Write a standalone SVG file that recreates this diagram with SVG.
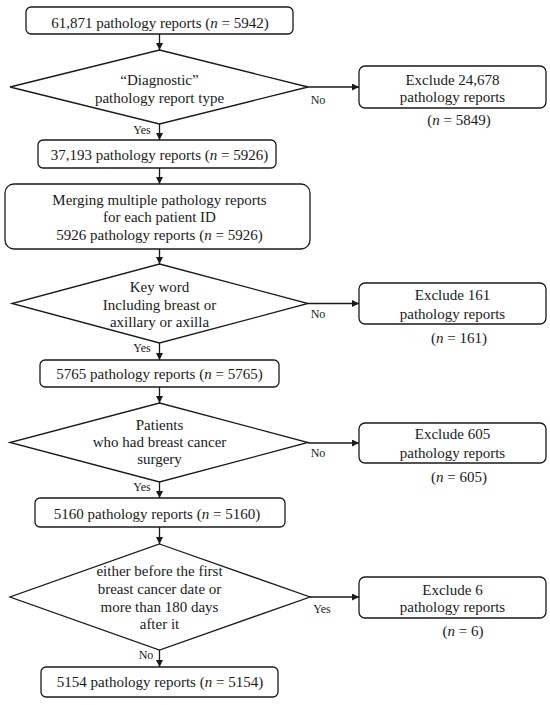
<svg xmlns="http://www.w3.org/2000/svg" width="550" height="705" viewBox="0 0 550 705">
<defs>
<marker id="ah" viewBox="0 0 10 10" refX="10" refY="5" markerWidth="7" markerHeight="7" markerUnits="userSpaceOnUse" orient="auto">
<path d="M0,0 L10,5 L0,10 z" fill="#1a1a1a"/>
</marker>
<style>
.b{fill:#fff;stroke:#1a1a1a;stroke-width:1.3}
.t{font-size:15px;fill:#1a1a1a;text-anchor:middle}
.s{font-size:12px;fill:#1a1a1a;text-anchor:middle}
.c{stroke:#1a1a1a;stroke-width:1.3;fill:none;marker-end:url(#ah)}
</style>
</defs>
<rect width="550" height="705" fill="#fff"/>
<g font-family="Liberation Serif, DejaVu Serif, serif">
<g id="connectors">
<line class="c" x1="159.5" y1="34" x2="159.5" y2="50"/>
<line class="c" x1="159.5" y1="124" x2="159.5" y2="140"/>
<line class="c" x1="159.5" y1="168" x2="159.5" y2="184"/>
<line class="c" x1="159.5" y1="249" x2="159.5" y2="264"/>
<line class="c" x1="159.5" y1="343" x2="159.5" y2="360"/>
<line class="c" x1="159.5" y1="387" x2="159.5" y2="403"/>
<line class="c" x1="159.5" y1="482" x2="159.5" y2="498"/>
<line class="c" x1="159.5" y1="527" x2="159.5" y2="544"/>
<line class="c" x1="159.5" y1="650" x2="159.5" y2="667"/>
<line class="c" x1="308" y1="87" x2="359" y2="87"/>
<line class="c" x1="308" y1="303.5" x2="359" y2="303.5"/>
<line class="c" x1="308" y1="443" x2="359" y2="443"/>
<line class="c" x1="310" y1="597" x2="359" y2="597"/>
<text class="s" x="142" y="134">Yes</text>
<text class="s" x="318" y="104">No</text>
<text class="s" x="142" y="352">Yes</text>
<text class="s" x="318" y="318">No</text>
<text class="s" x="142" y="491">Yes</text>
<text class="s" x="318" y="457">No</text>
<text class="s" x="146" y="659">No</text>
<text class="s" x="322" y="613">Yes</text>
</g>
<g id="n1">
<rect class="b" x="26" y="7" width="267" height="27" rx="5"/>
<text class="t" x="160" y="27.5">61,871 pathology reports (<tspan font-style="italic">n</tspan> = 5942)</text>
</g>
<g id="d1">
<polygon class="b" points="159.5,50 308,87 159.5,124 10,87"/>
<text class="t" x="159.5" y="85">“Diagnostic”</text>
<text class="t" x="159.5" y="103">pathology report type</text>
</g>
<g id="x1">
<rect class="b" x="359" y="66" width="187" height="42" rx="6"/>
<text class="t" x="452.5" y="84.5">Exclude 24,678</text>
<text class="t" x="452.5" y="102">pathology reports</text>
<text class="t" x="459" y="124.5">(<tspan font-style="italic">n</tspan> = 5849)</text>
</g>
<g id="n2">
<rect class="b" x="38" y="140" width="238" height="28" rx="5"/>
<text class="t" x="159.5" y="160">37,193 pathology reports (<tspan font-style="italic">n</tspan> = 5926)</text>
</g>
<g id="n3">
<rect class="b" x="5" y="184" width="305" height="65" rx="9"/>
<text class="t" x="159.5" y="204.5">Merging multiple pathology reports</text>
<text class="t" x="159.5" y="222">for each patient ID</text>
<text class="t" x="159.5" y="240">5926 pathology reports (<tspan font-style="italic">n</tspan> = 5926)</text>
</g>
<g id="d2">
<polygon class="b" points="159.5,264 308,303.5 159.5,343 12,303.5"/>
<text class="t" x="159.5" y="292">Key word</text>
<text class="t" x="159.5" y="309.5">Including breast or</text>
<text class="t" x="159.5" y="327">axillary or axilla</text>
</g>
<g id="x2">
<rect class="b" x="359" y="283" width="187" height="41" rx="6"/>
<text class="t" x="452.5" y="300">Exclude 161</text>
<text class="t" x="452.5" y="318.5">pathology reports</text>
<text class="t" x="459" y="342.5">(<tspan font-style="italic">n</tspan> = 161)</text>
</g>
<g id="n4">
<rect class="b" x="40" y="360" width="239" height="27" rx="5"/>
<text class="t" x="159.5" y="379">5765 pathology reports (<tspan font-style="italic">n</tspan> = 5765)</text>
</g>
<g id="d3">
<polygon class="b" points="159.5,403 308,442.5 159.5,482 10,442.5"/>
<text class="t" x="159.5" y="430">Patients</text>
<text class="t" x="159.5" y="447">who had breast cancer</text>
<text class="t" x="159.5" y="464">surgery</text>
</g>
<g id="x3">
<rect class="b" x="359" y="423" width="187" height="40" rx="6"/>
<text class="t" x="452.5" y="439">Exclude 605</text>
<text class="t" x="452.5" y="457.5">pathology reports</text>
<text class="t" x="459" y="481.5">(<tspan font-style="italic">n</tspan> = 605)</text>
</g>
<g id="n5">
<rect class="b" x="35" y="498" width="250" height="29" rx="5"/>
<text class="t" x="157" y="518.5">5160 pathology reports (<tspan font-style="italic">n</tspan> = 5160)</text>
</g>
<g id="d4">
<polygon class="b" points="159.5,544 310,597 159.5,650 10,597"/>
<text class="t" x="159.5" y="576">either before the first</text>
<text class="t" x="159.5" y="593.5">breast cancer date or</text>
<text class="t" x="159.5" y="611.5">more than 180 days</text>
<text class="t" x="159.5" y="629">after it</text>
</g>
<g id="x4">
<rect class="b" x="359" y="577" width="187" height="41" rx="6"/>
<text class="t" x="452.5" y="594.5">Exclude 6</text>
<text class="t" x="452.5" y="612">pathology reports</text>
<text class="t" x="463" y="636">(<tspan font-style="italic">n</tspan> = 6)</text>
</g>
<g id="n6">
<rect class="b" x="41" y="667" width="237" height="30" rx="5"/>
<text class="t" x="160" y="687">5154 pathology reports (<tspan font-style="italic">n</tspan> = 5154)</text>
</g>
</g>
</svg>
